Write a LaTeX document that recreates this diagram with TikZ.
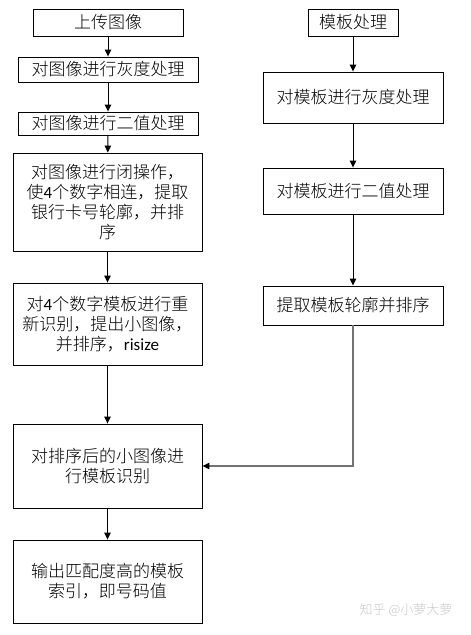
\documentclass[tikz,border=0pt]{standalone}
\usepackage{fontspec}
\setmainfont{Noto Sans CJK SC}[UprightFont={* Light}]
\newfontfamily\lat{Carlito}
\usetikzlibrary{arrows.meta}

\begin{document}
\begin{tikzpicture}[x=1pt, y=-1pt,
    box/.style={draw, line width=0.9pt, inner sep=2pt, align=center, font=\fontsize{17}{20}\selectfont},
    arr/.style={-{Triangle[length=7pt, width=6.5pt]}, line width=0.9pt},
    back/.style={-{Triangle[length=7pt, width=6.5pt, color=black]}, line width=1.3pt, draw=black!55},
    wmark/.style={font=\fontsize{13}{15}\selectfont, text=black!22}
]
\useasboundingbox (0,0) rectangle (471,635);

% left column
\node[box, minimum width=150pt, minimum height=27pt] (upload) at (108,22.5) {上传图像};
\node[box, minimum width=180pt, minimum height=25pt] (gray) at (108,69.5) {对图像进行灰度处理};
\node[box, minimum width=180pt, minimum height=23pt] (bin) at (108,123.5) {对图像进行二值处理};
\node[box, minimum width=189pt, minimum height=98pt] (close) at (107.5,202) {对图像进行闭操作，\\使{\lat 4}个数字相连，提取\\银行卡号轮廓，并排\\序};
\node[box, minimum width=189pt, minimum height=82pt] (split) at (107.5,324) {对{\lat 4}个数字模板进行重\\新识别，提出小图像，\\并排序，{\lat risize}};
\node[box, minimum width=189pt, minimum height=84pt] (match) at (107.5,466) {对排序后的小图像进\\行模板识别};
\node[box, minimum width=189pt, minimum height=83pt] (result) at (107.5,581.5) {输出匹配度高的模板\\索引，即号码值};

% right column
\node[box, minimum width=90pt, minimum height=27pt] (tproc) at (353,22.5) {模板处理};
\node[box, minimum width=180pt, minimum height=51pt] (tgray) at (353,97.5) {对模板进行灰度处理};
\node[box, minimum width=180pt, minimum height=46pt] (tbin) at (353,191) {对模板进行二值处理};
\node[box, minimum width=180pt, minimum height=39pt] (tsort) at (353,305.5) {提取模板轮廓并排序};

\draw[arr] (upload) -- (gray);
\draw[arr] (gray) -- (bin);
\draw[arr] (bin) -- (close);
\draw[arr] (close) -- (split);
\draw[arr] (split) -- (match);
\draw[arr] (match) -- (result);

\draw[arr] (tproc) -- (tgray);
\draw[arr] (tgray) -- (tbin);
\draw[arr] (tbin) -- (tsort);
\draw[back] (tsort.south) |- (match.east);

\node[wmark] (wm) at (406,610) {知乎 @小萝大萝};
\end{tikzpicture}
\end{document}
